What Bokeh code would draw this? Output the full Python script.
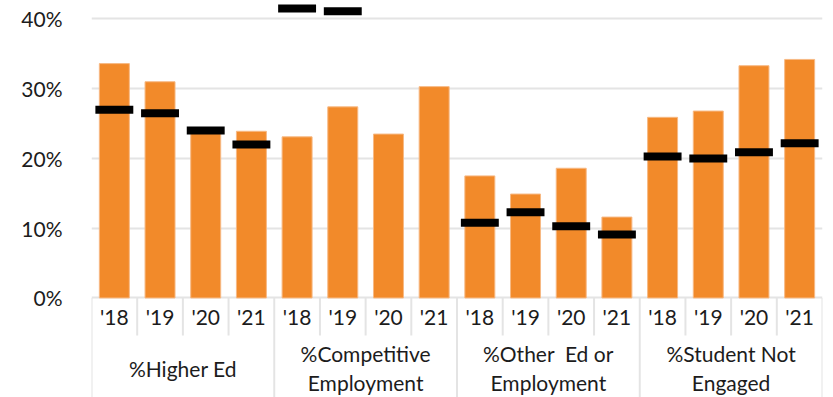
from bokeh.plotting import figure
from bokeh.models import Range1d, FixedTicker, PrintfTickFormatter, ColumnDataSource
from bokeh.core.properties import value
from bokeh.embed import file_html
from bokeh.resources import INLINE

# Outcome groups and survey years
groups = ["%Higher Ed", "%Competitive\nEmployment", "%Other \u00a0Ed or\nEmployment", "%Student Not\nEngaged"]
years = ["'18", "'19", "'20", "'21"]

# Share of students per outcome (orange bars), in percent
rates = [33.6, 31.0, 23.8, 23.9,
         23.1, 27.4, 23.5, 30.3,
         17.5, 14.9, 18.6, 11.6,
         25.9, 26.8, 33.3, 34.2]

# Comparison target for each bar (black markers); nan = not shown
targets = [27.0, 26.5, 24.0, 22.0,
           41.5, 41.1, float("nan"), float("nan"),
           10.8, 12.3, 10.3, 9.1,
           20.3, 20.0, 20.9, 22.2]

y_ticks = [0, 10, 20, 30, 40]

FONT = "Lato"
FONT_SIZE = "21px"
ORANGE = "#F28A2A"
GRID = "#E4E4E4"
TEXT = "#1C1C1C"

n_years = len(years)
n = len(groups) * n_years
xs = [i + 0.5 for i in range(n)]

src = ColumnDataSource(dict(x=xs, rate=rates, target=targets))

p = figure(width=833, height=397, output_backend="svg", toolbar_location=None,
           x_range=Range1d(0, n), y_range=Range1d(-14.27, 42.65),
           min_border_left=91, min_border_right=11, min_border_top=0, min_border_bottom=0)
p.outline_line_color = None
p.xaxis.visible = False
p.xgrid.visible = False

p.ygrid.ticker = FixedTicker(ticks=y_ticks)
p.ygrid.grid_line_color = GRID
p.ygrid.grid_line_width = 2

ax = p.yaxis[0]
ax.ticker = FixedTicker(ticks=y_ticks)
ax.formatter = PrintfTickFormatter(format="%d%%")
ax.axis_line_color = None
ax.major_tick_line_color = None
ax.minor_tick_line_color = None
ax.major_label_standoff = 23
ax.major_label_text_font = FONT
ax.major_label_text_font_size = FONT_SIZE
ax.major_label_text_color = TEXT

# bars
p.vbar(x="x", top="rate", bottom=0, width=0.656, source=src,
       fill_color=ORANGE, line_color="#F7B984", line_width=1)

# target markers
p.rect(x="x", y="target", width=0.83, height=8, height_units="screen",
       source=src, fill_color="black", line_color=None)

# category axis: separators between years and between groups
year_sep_bottom = -5.38
bottom = -14.27
sep_x = list(range(n + 1))
sep_y1 = [bottom if k % n_years == 0 else year_sep_bottom for k in sep_x]
p.segment(x0=sep_x, y0=[0] * len(sep_x), x1=sep_x, y1=sep_y1,
          line_color=GRID, line_width=2)

# year labels
p.text(x=xs, y=[-2.65] * n, text=years * len(groups),
       text_font=value(FONT), text_font_size=FONT_SIZE, text_color=TEXT,
       text_align="center", text_baseline="middle")

# group labels
gx = [g * n_years + n_years / 2 for g in range(len(groups))]
p.text(x=gx, y=[-10.05] * len(groups), text=groups,
       text_font=value(FONT), text_font_size=FONT_SIZE, text_color=TEXT,
       text_align="center", text_baseline="middle", text_line_height=1.15)

open("out.html", "w").write(file_html(p, INLINE))
